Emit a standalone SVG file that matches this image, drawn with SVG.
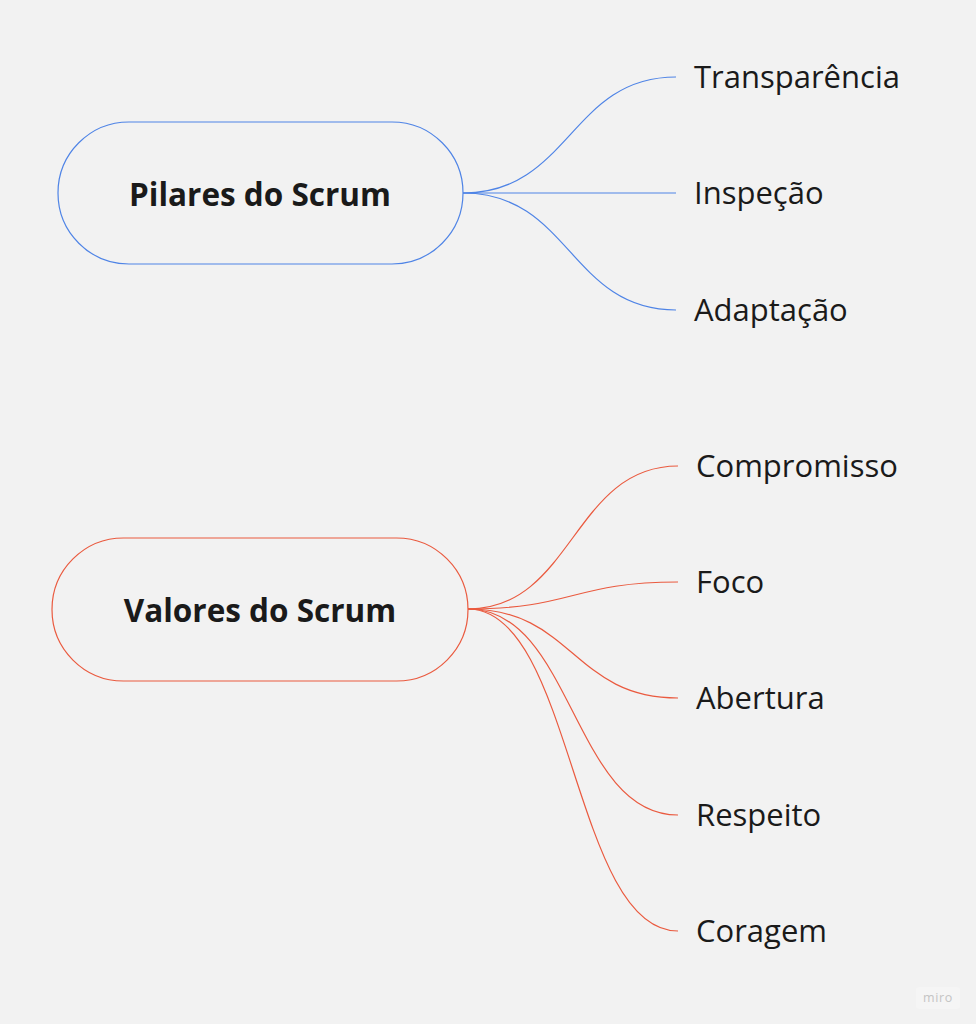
<svg xmlns="http://www.w3.org/2000/svg" width="976" height="1024" viewBox="0 0 976 1024">
<style>
.title{font-family:"Open Sans","Liberation Sans",sans-serif;font-weight:700;font-size:31.5px;fill:#1a1a1a;text-anchor:middle}
.leaf{font-family:"Open Sans","Liberation Sans",sans-serif;font-size:31px;fill:#1a1a1a}
.blue{fill:none;stroke:#4f84e6;stroke-width:1.2}
.red{fill:none;stroke:#ea5a3f;stroke-width:1.2}
</style>
<rect width="976" height="1024" fill="#f2f2f2"/>
<g id="connectors">
<path class="blue" d="M463,193 C570,193 570,77 676,77"/>
<path class="blue" d="M463,193 L676,193"/>
<path class="blue" d="M463,193 C570,193 570,310 676,310"/>
<path class="red" d="M468,609 C573,609 573,466 678,466"/>
<path class="red" d="M468,609 C573,609 573,582 678,582"/>
<path class="red" d="M468,609 C573,609 573,698 678,698"/>
<path class="red" d="M468,609 C573,609 573,815 678,815"/>
<path class="red" d="M468,609 C573,609 573,931 678,931"/>
</g>
<g id="pilares">
<rect x="58" y="122" width="405" height="142" rx="71" fill="none" stroke="#4f84e6" stroke-width="1.2"/>
<text class="title" x="260" y="205.5">Pilares do Scrum</text>
</g>
<g id="transparencia"><text class="leaf" x="694" y="87.5">Transparência</text></g>
<g id="inspecao"><text class="leaf" x="694" y="204">Inspeção</text></g>
<g id="adaptacao"><text class="leaf" x="694" y="320.5">Adaptação</text></g>
<g id="valores">
<rect x="52" y="538" width="416" height="143" rx="71.5" fill="none" stroke="#ea5a3f" stroke-width="1.2"/>
<text class="title" x="260" y="621.5">Valores do Scrum</text>
</g>
<g id="compromisso"><text class="leaf" x="696" y="476.5">Compromisso</text></g>
<g id="foco"><text class="leaf" x="696" y="593">Foco</text></g>
<g id="abertura"><text class="leaf" x="696" y="709">Abertura</text></g>
<g id="respeito"><text class="leaf" x="696" y="825.5">Respeito</text></g>
<g id="coragem"><text class="leaf" x="696" y="942">Coragem</text></g>
<g id="watermark">
<rect x="916" y="987" width="44" height="22" rx="3" fill="#f5f5f5"/>
<text x="938" y="1002" font-family="Open Sans, Liberation Sans, sans-serif" font-size="12.5" letter-spacing="0.6" fill="#c4c4c4" text-anchor="middle">miro</text>
</g>
</svg>
